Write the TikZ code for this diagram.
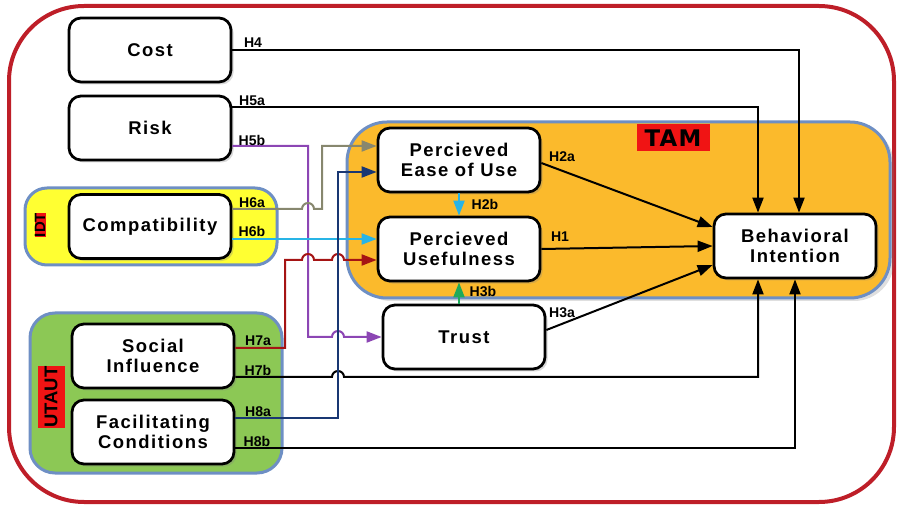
\documentclass[tikz,border=0pt]{standalone}
\usepackage{fontspec}
\setmainfont{Liberation Sans}
\newfontfamily\spaced{Liberation Sans}[LetterSpace=8]
\newfontfamily\wide{DejaVu Sans}[LetterSpace=6]
\usetikzlibrary{arrows.meta,shadows,positioning}

\definecolor{framered}{RGB}{190,30,40}
\definecolor{groupline}{RGB}{110,143,196}
\definecolor{tamfill}{RGB}{251,186,44}
\definecolor{idtfill}{RGB}{255,255,50}
\definecolor{utautfill}{RGB}{140,200,85}
\definecolor{tagred}{RGB}{240,20,20}
\definecolor{holive}{RGB}{135,135,110}
\definecolor{hsky}{RGB}{40,180,230}
\definecolor{hmaroon}{RGB}{165,20,20}
\definecolor{hnavy}{RGB}{25,55,115}
\definecolor{hpurple}{RGB}{140,70,180}
\definecolor{hleaf}{RGB}{30,170,90}

\begin{document}
\begin{tikzpicture}[x=0.2mm,y=-0.2mm]

% Styles for the model
\tikzstyle{construct}	=	[rectangle, draw, line width=0.55mm, rounded corners=2.4mm, fill=white, minimum width=32.4mm, minimum height=12.8mm, inner sep=0pt, align=center, font=\spaced\bfseries\fontsize{10.5}{11}\selectfont, drop shadow={shadow xshift=0.5mm, shadow yshift=-0.5mm, opacity=0.3}]
\tikzstyle{group}	=	[draw=groupline, line width=0.6mm]
\tikzstyle{tag}	=	[rectangle, fill=tagred, inner sep=0pt]
\tikzstyle{hyp}	=	[font=\bfseries\fontsize{8}{9}\selectfont, inner sep=0pt]
\tikzstyle{link}	=	[line width=0.4mm, -{Triangle[length=3mm,width=2.2mm]}]

	\useasboundingbox (0,0) rectangle (897,506);

	% Frame and theory groups
	\draw[framered, line width=0.8mm, rounded corners=15mm] (9,6) rectangle (894,502);
	\draw[group, fill=tamfill, rounded corners=8mm, drop shadow={shadow xshift=0.8mm, shadow yshift=-0.6mm, opacity=0.25}] (347,122) rectangle (890,298);
	\draw[group, fill=idtfill, rounded corners=4.4mm] (25,188) rectangle (277,265);
	\draw[group, fill=utautfill, rounded corners=5mm] (30,313) rectangle (282,473);
	\node[tag, minimum width=14.6mm, minimum height=5.4mm, font=\wide\bfseries\fontsize{13}{15}\selectfont] (tamtag) at (673,138) {TAM};
	\node[tag, rotate=90, minimum width=4.6mm, minimum height=2.2mm, font=\bfseries\fontsize{8.5}{9}\selectfont] (idttag) at (40,225) {IDT};
	\node[tag, rotate=90, minimum width=12mm, minimum height=5.4mm, font=\bfseries\fontsize{10.5}{12}\selectfont] (utauttag) at (51,397) {UTAUT};

	% Left side
	\node[construct]	(cost)	at (150,50)	{Cost};
	\node[construct]	(risk)	[below of=cost, node distance=15.6mm]	{Risk};
	\node[construct]	(compat)	[below of=risk, node distance=19.7mm]	{Compatibility};
	\node[construct]	(si)	at (153,356)	{Social\\Influence};
	\node[construct]	(fc)	[below of=si, node distance=15.2mm]	{Facilitating\\Conditions};

	% TAM and trust
	\node[construct]	(peou)	at (459,160)	{Percieved\\Ease of Use};
	\node[construct]	(pu)	[below of=peou, node distance=17.8mm]	{Percieved\\Usefulness};
	\node[construct]	(trust)	at (464,337)	{Trust};
	\node[construct]	(bi)	at (795,246)	{Behavioral\\Intention};

	% Paths
	\draw[link] (cost.east) -| (bi.north -| 799,0); % H4
	\draw[link] (risk.east |- 0,107) -| (bi.north -| 758,0); % H5a
	\draw[link, hpurple] (risk.east |- 0,146) -- (308,146) -- (308,337) -- (332,337) arc (180:0:1.2mm) -- (trust.west); % H5b
	\draw[link, holive] (compat.east |- 0,209) -- (302,209) arc (180:0:1.2mm) -- (322,209) -- (322,146) -- (peou.west |- 0,146); % H6a
	\draw[link, hsky] (compat.east |- 0,239) -- (pu.west |- 0,239); % H6b
	\draw[link, hmaroon] (si.east |- 0,348) -- (285,348) -- (285,260) -- (302,260) arc (180:0:1.2mm) -- (332,260) arc (180:0:1.2mm) -- (pu.west |- 0,260); % H7a
	\draw[link] (si.east |- 0,377) -- (332,377) arc (180:0:1.2mm) -| (bi.south -| 758,0); % H7b
	\draw[link, hnavy] (fc.east |- 0,418) -- (338,418) -- (338,172) -- (peou.west |- 0,172); % H8a
	\draw[link] (fc.east |- 0,448) -| (bi.south -| 795,0); % H8b
	\draw[link] (peou.east |- 0,163) -- (bi.west |- 0,227); % H2a
	\draw[link] (pu.east) -- (bi.west); % H1
	\draw[link] (trust.east |- 0,330) -- (bi.west |- 0,265); % H3a
	\draw[link, hsky] (peou.south) -- (pu.north); % H2b
	\draw[link, hleaf] (pu.south |- trust.north) -- (pu.south); % H3b

	% Hypothesis labels
	\node[hyp] (lh4) at (253,43) {H4};
	\node[hyp] (lh5a) at (252,101) {H5a};
	\node[hyp] (lh5b) at (252,140) {H5b};
	\node[hyp] (lh6a) at (252,203) {H6a};
	\node[hyp] (lh6b) at (252,231) {H6b};
	\node[hyp] (lh7a) at (258,341) {H7a};
	\node[hyp] (lh7b) at (258,370) {H7b};
	\node[hyp] (lh8a) at (258,412) {H8a};
	\node[hyp] (lh8b) at (257,441) {H8b};
	\node[hyp] (lh2a) at (562,157) {H2a};
	\node[hyp] (lh2b) at (485,204) {H2b};
	\node[hyp] (lh1) at (560,237) {H1};
	\node[hyp] (lh3b) at (483,291) {H3b};
	\node[hyp] (lh3a) at (562,313) {H3a};

\end{tikzpicture}
\end{document}
